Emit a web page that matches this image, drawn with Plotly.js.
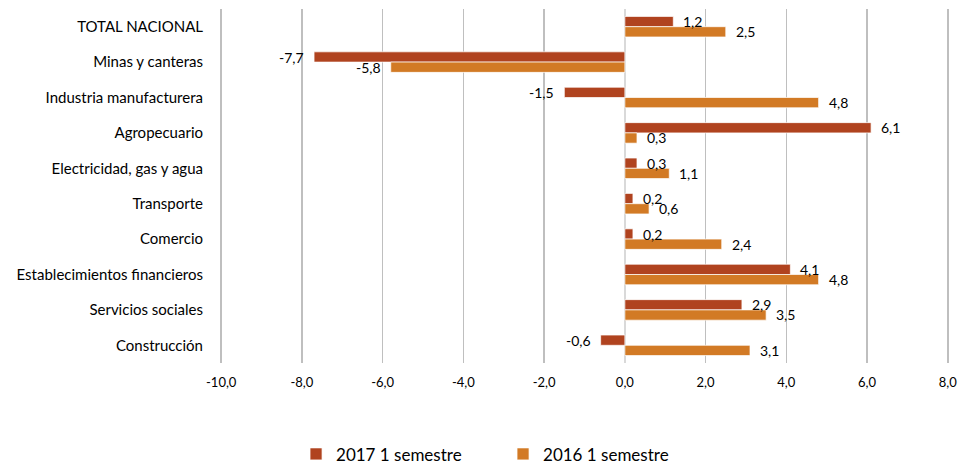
<!DOCTYPE html>
<html><head><meta charset="utf-8">
<script src="https://cdn.plot.ly/plotly-3.0.1.min.js"></script>
<style>html,body{margin:0;padding:0;background:#fff}#chart{width:973px;height:466px}</style>
</head><body><div id="chart"></div>
<script>
const categories = ["TOTAL NACIONAL","Minas y canteras","Industria manufacturera","Agropecuario","Electricidad, gas y agua","Transporte","Comercio","Establecimientos financieros","Servicios sociales","Construcción"];
const values2017 = [1.2,-7.7,-1.5,6.1,0.3,0.2,0.2,4.1,2.9,-0.6];
const values2016 = [2.5,-5.8,4.8,0.3,1.1,0.6,2.4,4.8,3.5,3.1];
const seriesNames = ["2017 1 semestre","2016 1 semestre"];
const tickVals = [-10,-8,-6,-4,-2,0,2,4,6,8];
const tickText = ["-10,0","-8,0","-6,0","-4,0","-2,0","0,0","2,0","4,0","6,0","8,0"];
const fmt = v => v.toFixed(1).replace('.', ',');
const font = "Lato, 'Open Sans', sans-serif";
function trace(vals, name, color){
  return {type:'bar', orientation:'h', y:categories, x:vals, name:name,
    marker:{color:color, line:{color:'rgba(255,255,255,0.7)', width:1}},
    hoverinfo:'x+y'};
}
const data = [trace(values2017, seriesNames[0], '#B0431F'), trace(values2016, seriesNames[1], '#D27A25')];
const annotations = [];
[[values2017, 5], [values2016, -5]].forEach(([vals, ys]) => {
  vals.forEach((v, i) => {
    annotations.push({x:v, y:categories[i], xref:'x', yref:'y', text:fmt(v), showarrow:false,
      xanchor: v >= 0 ? 'left' : 'right', xshift: v >= 0 ? 8 : -8, yshift: ys,
      font:{family:font, size:14, color:'#000'}});
  });
});
const layout = {
  width:973, height:466, margin:{l:220, r:24, t:9, b:103},
  paper_bgcolor:'#fff', plot_bgcolor:'#fff',
  barmode:'group', bargap:0.42, bargroupgap:0,
  font:{family:font, size:14, color:'#000'},
  annotations: annotations,
  xaxis:{range:[-10.03,8.03], tickvals:tickVals, ticktext:tickText, showgrid:true, gridcolor:'#BFBFBF', gridwidth:1.5,
    zeroline:true, zerolinecolor:'#D9D9D9', zerolinewidth:1.5, showline:false, ticks:'', ticklabelstandoff:10,
    tickfont:{family:font, size:13, color:'#000'}},
  yaxis:{autorange:'reversed', showgrid:false, zeroline:false, showline:false, ticks:'', ticklabelstandoff:16,
    tickfont:{family:font, size:15, color:'#000'}},
  legend:{orientation:'h', xref:'container', yref:'container', x:0.517, xanchor:'center', y:0.025, yanchor:'middle',
    font:{family:font, size:17, color:'#000'}, itemwidth:30, entrywidth:162, traceorder:'normal'},
  showlegend:true
};
Plotly.newPlot('chart', data, layout, {displayModeBar:false, staticPlot:true});
</script></body></html>
